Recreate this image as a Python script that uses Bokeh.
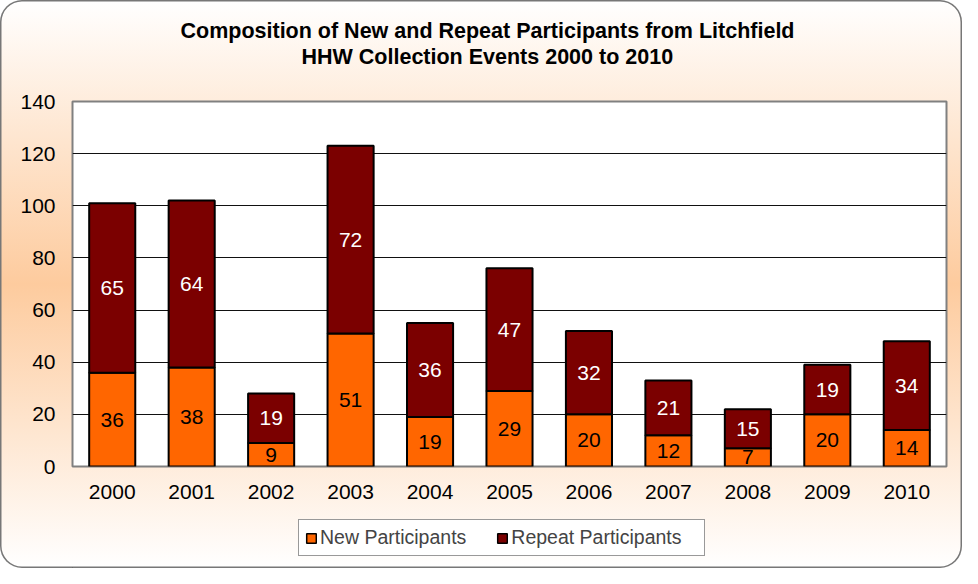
from bokeh.plotting import figure
from bokeh.layouts import column
from bokeh.models import (ColumnDataSource, Legend, LegendItem, Title, Range1d, FixedTicker)
from bokeh.core.properties import value
from bokeh.embed import file_html
from bokeh.resources import INLINE

# ---- data ----
years = ["2000", "2001", "2002", "2003", "2004", "2005", "2006", "2007", "2008", "2009", "2010"]
new_participants = [36, 38, 9, 51, 19, 29, 20, 12, 7, 20, 14]
repeat_participants = [65, 64, 19, 72, 36, 47, 32, 21, 15, 19, 34]
y_ticks = [0, 20, 40, 60, 80, 100, 120, 140]
series_names = ["New Participants", "Repeat Participants"]
title_lines = ["Composition of New and Repeat Participants from Litchfield",
               "HHW Collection Events 2000 to 2010"]

FONT = "Liberation Sans"
ORANGE = "#FF6600"
DARKRED = "#7B0000"
NBSP = "\u00a0"

src = ColumnDataSource(dict(
    year=years,
    new=new_participants,
    repeat=repeat_participants,
    new_mid=[n / 2 for n in new_participants],
    rep_mid=[n + r / 2 for n, r in zip(new_participants, repeat_participants)],
    new_txt=[str(n) for n in new_participants],
    rep_txt=[str(r) for r in repeat_participants],
))

# ---- main chart ----
p = figure(x_range=years, y_range=Range1d(0, 140),
           frame_width=874, frame_height=365,
           output_backend="svg", toolbar_location=None,
           min_border_left=72, min_border_right=16, min_border_top=101, min_border_bottom=43)
p.border_fill_alpha = 0
p.background_fill_color = "white"
p.outline_line_color = "#808080"
p.outline_line_width = 2

renderers = p.vbar_stack(["new", "repeat"], x="year", width=0.58, source=src,
                         color=[ORANGE, DARKRED], line_color="black", line_width=2)

p.text(x="year", y="new_mid", text="new_txt", source=src, text_align="center",
       text_baseline="middle", text_font=value(FONT), text_font_size=value("21px"),
       text_color="black")
p.text(x="year", y="rep_mid", text="rep_txt", source=src, text_align="center",
       text_baseline="middle", text_font=value(FONT), text_font_size=value("21px"),
       text_color="white")

p.xgrid.grid_line_color = None
p.ygrid.grid_line_color = "#111111"
p.ygrid.grid_line_width = 1
p.yaxis.ticker = FixedTicker(ticks=y_ticks)
for ax in (p.xaxis[0], p.yaxis[0]):
    ax.axis_line_color = None
    ax.major_tick_line_color = None
    ax.minor_tick_line_color = None
    ax.major_tick_out = 0
    ax.major_tick_in = 0
    ax.major_label_text_font = FONT
    ax.major_label_text_font_size = "21px"
    ax.major_label_text_color = "black"
p.yaxis.major_label_standoff = 17
p.xaxis.major_label_standoff = 18

# title: spacer nearest the plot, then line 2, then line 1
p.add_layout(Title(text=NBSP, standoff=7, text_font=FONT, text_font_size="21.5px"), "above")
p.add_layout(Title(text=title_lines[1], align="left", offset=229, standoff=0,
                   text_font=FONT, text_font_style="bold", text_font_size="21.5px",
                   text_color="black"), "above")
p.add_layout(Title(text=title_lines[0], align="left", offset=108, standoff=0,
                   text_font=FONT, text_font_style="bold", text_font_size="21.5px",
                   text_color="black"), "above")

# ---- legend strip (own small figure, legend inside its frame) ----
p2 = figure(width=962, height=59, x_range=Range1d(0, 1), y_range=Range1d(0, 1),
            output_backend="svg", toolbar_location=None,
            x_axis_type=None, y_axis_type=None,
            min_border_left=0, min_border_right=0, min_border_top=0, min_border_bottom=0)
p2.border_fill_alpha = 0
p2.background_fill_alpha = 0
p2.outline_line_color = None
p2.xgrid.visible = False
p2.ygrid.visible = False
# legend key marks (kept outside the visible range)
key_new = p2.vbar(x=[-10], top=[0], width=0.5, fill_color=ORANGE, line_color="black", line_width=1.5)
key_rep = p2.vbar(x=[-10], top=[0], width=0.5, fill_color=DARKRED, line_color="black", line_width=1.5)

legend = Legend(items=[LegendItem(label=series_names[0], renderers=[key_new]),
                       LegendItem(label=series_names[1] + NBSP * 3, renderers=[key_rep])],
                orientation="horizontal", location=(226, 12), padding=6, spacing=30,
                glyph_width=12, glyph_height=12, label_standoff=3,
                label_text_font=FONT, label_text_font_size="19.5px",
                background_fill_color="white", background_fill_alpha=1,
                border_line_color="#333333", border_line_width=1, margin=0)
p2.add_layout(legend)

layout = column(p, p2, spacing=0,
                styles={"background": "linear-gradient(to bottom, #ffffff 0%, #fdcb9e 50%, #ffffff 100%)",
                        "border-radius": "22px",
                        "box-shadow": "inset 0 0 0 1.5px #777777"})

open("out.html", "w").write(file_html(layout, INLINE))
